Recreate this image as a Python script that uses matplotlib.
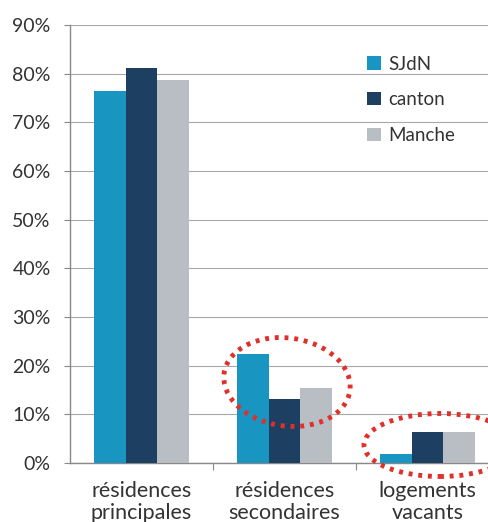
import matplotlib
matplotlib.use("Agg")
import matplotlib.pyplot as plt
from matplotlib.patches import Ellipse
import numpy as np

categories = ["résidences\nprincipales", "résidences\nsecondaires", "logements\nvacants"]
series_names = ["SJdN", "canton", "Manche"]
sjdn = [76.4, 22.4, 1.8]
canton = [81.1, 13.1, 6.4]
manche = [78.6, 15.4, 6.4]
y_ticks = [0, 10, 20, 30, 40, 50, 60, 70, 80, 90]
y_tick_labels = ["0%", "10%", "20%", "30%", "40%", "50%", "60%", "70%", "80%", "90%"]

colors = ["#1895c0", "#1c3f62", "#b9bdc4"]
plt.rcParams['font.family'] = ['Lato', 'DejaVu Sans']

W, H = 489, 522
fig = plt.figure(figsize=(W / 100, H / 100), dpi=100)
# axes from x=70 to 499 px, y from 463 (0%) to 25 (90%)
ax = fig.add_axes([70 / W, (H - 463) / H, (499 - 70) / W, (463 - 25) / H])
ax.set_ylim(0, 90)
ax.set_xlim(-0.5, 2.5)

x = np.arange(len(categories))
bw = 0.222
for i, (vals, c, n) in enumerate(zip([sjdn, canton, manche], colors, series_names)):
    ax.bar(x + (i - 1) * bw, vals, width=bw, color=c, label=n, zorder=3)

ax.set_yticks(y_ticks)
ax.set_yticklabels(y_tick_labels, fontsize=14, color="#333333")
ax.yaxis.grid(True, color="#a8a8a8", linewidth=0.8, zorder=0)
ax.set_axisbelow(True)
ax.tick_params(axis="y", length=4, color="#888888", pad=10)

ax.set_xticks([0.5, 1.5])
ax.set_xticklabels(["", ""])
ax.tick_params(axis="x", length=5, color="#888888")
ax.set_xticks(x, minor=True)
ax.set_xticklabels(categories, minor=True, fontsize=15.5, color="#333333", linespacing=1.12)
ax.tick_params(axis="x", which="minor", length=0, pad=13)

for s in ["top", "right"]:
    ax.spines[s].set_visible(False)
for s in ["left", "bottom"]:
    ax.spines[s].set_color("#888888")
    ax.spines[s].set_linewidth(1.0)

leg = ax.legend(loc="upper left", bbox_to_anchor=((360 - 70) / (499 - 70), 1 - (48 - 25) / (463 - 25)),
                frameon=False, fontsize=13.5, handlelength=0.7, handleheight=0.7,
                labelspacing=1.0, handletextpad=0.4, borderaxespad=0)
for t in leg.get_texts():
    t.set_color("#333333")

red = "#e0302a"
e1 = Ellipse((2.87, (H - 382) / 100), 1.27, 0.88, angle=-8, fill=False, edgecolor=red,
             linewidth=3.5, linestyle=(0, (0.8, 1.2)), transform=fig.dpi_scale_trans, zorder=5)
e2 = Ellipse((4.40, (H - 445) / 100), 1.52, 0.63, angle=0, fill=False, edgecolor=red,
             linewidth=3.5, linestyle=(0, (0.8, 1.2)), transform=fig.dpi_scale_trans, zorder=5)
fig.add_artist(e1)
fig.add_artist(e2)

fig.savefig("out.png", dpi=100)
